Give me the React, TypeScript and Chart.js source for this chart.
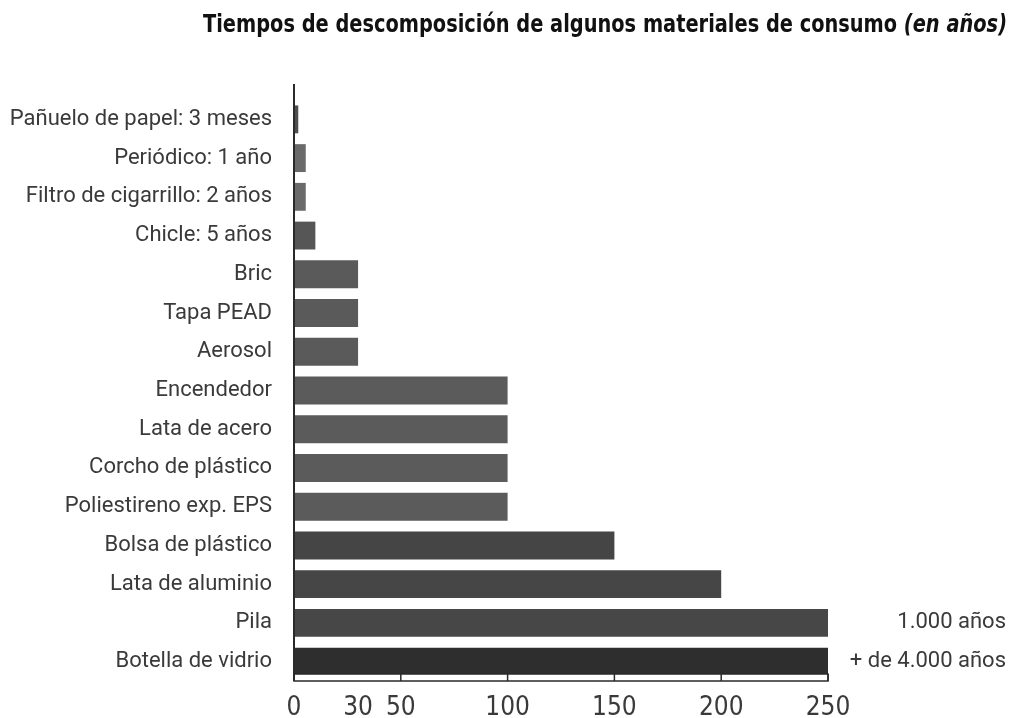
import { useEffect, useRef } from 'react';
import { Chart, registerables } from 'chart.js';

Chart.register(...registerables);

const categories = [
  'Pañuelo de papel: 3 meses',
  'Periódico: 1 año',
  'Filtro de cigarrillo: 2 años',
  'Chicle: 5 años',
  'Bric',
  'Tapa PEAD',
  'Aerosol',
  'Encendedor',
  'Lata de acero',
  'Corcho de plástico',
  'Poliestireno exp. EPS',
  'Bolsa de plástico',
  'Lata de aluminio',
  'Pila',
  'Botella de vidrio',
];
const barLengths = [2, 5.5, 5.5, 10, 30, 30, 30, 100, 100, 100, 100, 150, 200, 250, 250];
const barColors = [
  '#4e4e4e', '#6a6a6a', '#6a6a6a', '#565656', '#5a5a5a', '#5a5a5a', '#5a5a5a',
  '#5b5b5b', '#5b5b5b', '#5b5b5b', '#5b5b5b', '#454545', '#464646', '#474747', '#2e2e2e',
];
const sideNotes = ['', '', '', '', '', '', '', '', '', '', '', '', '', '1.000 años', '+ de 4.000 años'];
const tickValues = [0, 30, 50, 100, 150, 200, 250];
const dividerValues = [0, 50, 100, 150, 200, 250];
const titleMain = 'Tiempos de descomposición de algunos materiales de consumo ';
const titleItalic = '(en años)';

const LABEL_FONT = "Roboto, 'Liberation Sans', sans-serif";
const NARROW_FONT = "'Liberation Sans Narrow', 'DejaVu Sans Condensed', Roboto, sans-serif";
const TEXT_COLOR = '#3a3a3a';

const decorPlugin = {
  id: 'decor',
  afterDraw(chart: any) {
    const { ctx, chartArea, scales } = chart;
    const xs = scales.x;
    const ys = scales.y;
    const x0 = xs.getPixelForValue(0);
    const x1 = xs.getPixelForValue(250);
    const yb = chartArea.bottom;
    ctx.save();
    // axis box with dividers
    ctx.fillStyle = '#ffffff';
    ctx.fillRect(x0, yb - 7, x1 - x0, 7);
    ctx.strokeStyle = '#2a2a2a';
    ctx.lineWidth = 1.5;
    ctx.strokeRect(x0, yb - 7, x1 - x0, 7);
    ctx.beginPath();
    dividerValues.forEach((v) => {
      const px = xs.getPixelForValue(v);
      ctx.moveTo(px, yb - 7);
      ctx.lineTo(px, yb);
    });
    ctx.stroke();
    // vertical axis line
    ctx.lineWidth = 2;
    ctx.beginPath();
    ctx.moveTo(x0, chartArea.top - 16);
    ctx.lineTo(x0, yb);
    ctx.stroke();
    // side notes
    ctx.fillStyle = TEXT_COLOR;
    ctx.font = `22px ${LABEL_FONT}`;
    ctx.textAlign = 'right';
    ctx.textBaseline = 'middle';
    sideNotes.forEach((t, i) => {
      if (!t) return;
      ctx.fillText(t, chart.width - 8, ys.getPixelForValue(i));
    });
    // title
    const left = 203;
    const right = 1007;
    const baseline = 32;
    const fMain = `bold 25px ${NARROW_FONT}`;
    const fIt = `italic bold 25px ${NARROW_FONT}`;
    ctx.font = fMain;
    const w1 = ctx.measureText(titleMain).width;
    ctx.font = fIt;
    const w2 = ctx.measureText(titleItalic).width;
    const sx = (right - left) / (w1 + w2);
    ctx.translate(left, baseline);
    ctx.scale(sx, 1);
    ctx.textAlign = 'left';
    ctx.textBaseline = 'alphabetic';
    ctx.fillStyle = '#111111';
    ctx.font = fMain;
    ctx.fillText(titleMain, 0, 0);
    ctx.font = fIt;
    ctx.fillText(titleItalic, w1, 0);
    ctx.restore();
  },
};

export default function App() {
  const canvasRef = useRef<HTMLCanvasElement | null>(null);

  useEffect(() => {
    if (!canvasRef.current) return;
    const chart = new Chart(canvasRef.current, {
      type: 'bar',
      data: {
        labels: categories,
        datasets: [
          {
            data: barLengths,
            backgroundColor: barColors,
            borderWidth: 0,
            barPercentage: 0.8,
            categoryPercentage: 0.9,
          },
        ],
      },
      options: {
        indexAxis: 'y',
        animation: false,
        responsive: true,
        maintainAspectRatio: false,
        layout: { padding: { top: 100, right: 186, bottom: 0, left: 0 } },
        plugins: {
          legend: { display: false },
          tooltip: { enabled: false },
          title: { display: false },
        },
        scales: {
          x: {
            type: 'linear',
            min: 0,
            max: 250,
            afterBuildTicks: (scale: any) => {
              scale.ticks = tickValues.map((v) => ({ value: v }));
            },
            afterFit: (scale: any) => {
              scale.height = 37;
            },
            grid: { display: false, drawTicks: false },
            border: { display: false },
            ticks: {
              autoSkip: false,
              maxRotation: 0,
              padding: 12,
              color: TEXT_COLOR,
              font: { family: NARROW_FONT, size: 26 },
              callback: (v: any) => String(v),
            },
          },
          y: {
            afterFit: (scale: any) => {
              scale.width = 294;
            },
            grid: { display: false, drawTicks: false },
            border: { display: false },
            ticks: {
              autoSkip: false,
              padding: 22,
              color: TEXT_COLOR,
              font: { family: LABEL_FONT, size: 22 },
            },
          },
        },
      },
      plugins: [decorPlugin],
    });
    return () => chart.destroy();
  }, []);

  return (
    <div style={{ position: 'fixed', left: 0, top: 0, width: 1014, height: 718, background: '#fff' }}>
      <canvas ref={canvasRef} />
    </div>
  );
}
